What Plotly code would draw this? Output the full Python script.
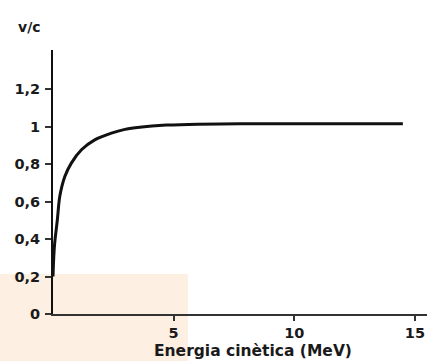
import plotly.graph_objects as go

energy_mev = [0, 0.03, 0.07, 0.18, 0.28, 0.49, 0.76, 1.18, 1.73, 2.42, 2.98, 3.5, 4.1, 4.7, 6.0, 7.75, 10.0, 12.5, 14.5]
v_over_c = [0.2, 0.3, 0.378, 0.503, 0.627, 0.734, 0.806, 0.877, 0.93, 0.966, 0.986, 0.996, 1.004, 1.009, 1.014, 1.016, 1.016, 1.016, 1.016]

y_tick_vals = [0, 0.2, 0.4, 0.6, 0.8, 1.0, 1.2]
y_tick_text = ["0", "0,2", "0,4", "0,6", "0,8", "1", "1,2"]
x_tick_vals = [5, 10, 15]
x_tick_text = ["5", "10", "15"]

font_bold = dict(family="DejaVu Sans", size=14.5, color="#1a1a1a", weight="bold")

fig = go.Figure()
fig.add_trace(go.Scatter(
    x=energy_mev, y=v_over_c, mode="lines",
    line=dict(color="#111111", width=3, shape="spline", smoothing=0.8),
    hoverinfo="skip", showlegend=False,
))

fig.add_shape(type="rect", xref="paper", yref="paper",
              x0=-0.15, x1=0.3607, y0=-0.2, y1=0.1515,
              fillcolor="#fdefe2", line=dict(width=0), layer="below")

fig.add_annotation(text="v/c", xref="paper", yref="paper",
                   x=-0.0624, y=1.087, xanchor="center", yanchor="middle",
                   showarrow=False, font=dict(family="DejaVu Sans", size=14, color="#1a1a1a", weight="bold"))
fig.add_annotation(text="Energia cinètica (MeV)", xref="paper", yref="paper",
                   x=0.535, y=-0.14, xanchor="center", yanchor="middle",
                   showarrow=False, font=dict(family="DejaVu Sans", size=15.5, color="#1a1a1a", weight="bold"))

fig.update_layout(
    width=429, height=361,
    margin=dict(l=53, r=2, t=50, b=47),
    paper_bgcolor="white", plot_bgcolor="rgba(0,0,0,0)",
    xaxis=dict(range=[0, 15.5], showgrid=False, zeroline=False,
               showline=True, linecolor="#333333", linewidth=1.5,
               ticks="outside", ticklen=5, tickcolor="#333333", tickwidth=1.5,
               tickvals=x_tick_vals, ticktext=x_tick_text, tickfont=font_bold),
    yaxis=dict(range=[0, 1.41], showgrid=False, zeroline=False,
               showline=True, linecolor="#111111", linewidth=2,
               ticks="outside", ticklen=6, tickcolor="#333333", tickwidth=1.5,
               tickvals=y_tick_vals, ticktext=y_tick_text, tickfont=font_bold,
               ticklabelstandoff=2),
)

fig.write_html("out.html", config={"displayModeBar": False},
               post_script="document.body.style.margin='0px';document.body.style.overflow='hidden';")
